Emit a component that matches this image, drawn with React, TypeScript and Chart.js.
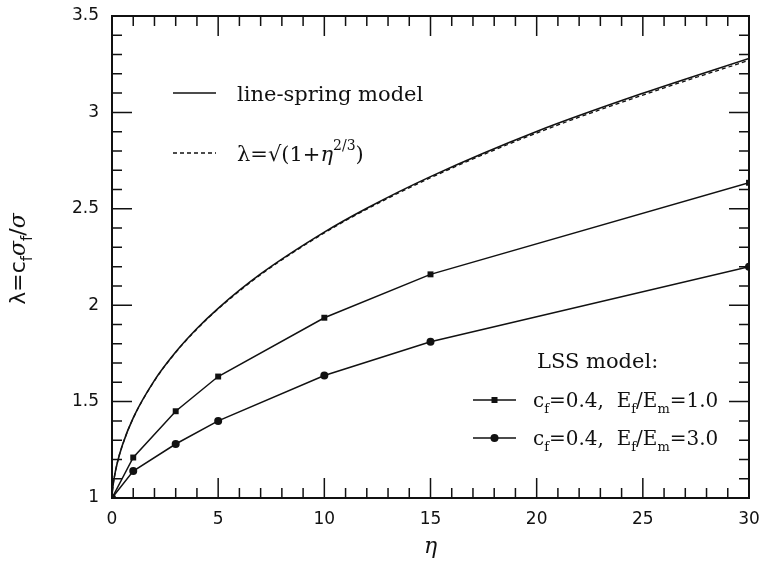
import React, { useEffect, useRef } from "react";
import { Chart, registerables } from "chart.js";

Chart.register(...registerables);

// ---- data ----
const etaCurve = [0, 0.01, 0.02, 0.05, 0.1, 0.25, 0.5, 1, 2, 3, 4, 5, 7, 10, 12, 15, 20, 25, 30];
const lineSpringModel = [1, 1.023, 1.037, 1.066, 1.103, 1.183, 1.278, 1.416, 1.610, 1.757, 1.879, 1.984, 2.162, 2.379, 2.503, 2.667, 2.901, 3.099, 3.280];
const sqrtApprox = [1, 1.023, 1.036, 1.065, 1.102, 1.182, 1.277, 1.414, 1.608, 1.755, 1.876, 1.981, 2.158, 2.375, 2.498, 2.661, 2.893, 3.090, 3.270];

const etaLss = [0, 1, 3, 5, 10, 15, 30];
const lssEf1 = [1, 1.21, 1.45, 1.63, 1.935, 2.16, 2.635];
const lssEf3 = [1, 1.14, 1.28, 1.40, 1.635, 1.81, 2.2];

const xTickLabels = ["0", "5", "10", "15", "20", "25", "30"];
const yTickLabels = ["1", "1.5", "2", "2.5", "3", "3.5"];

const INK = "#111";
const SERIF = "'DejaVu Serif', serif";
const SANS = "'DejaVu Sans', sans-serif";

type Seg = { t: string; sub?: boolean; sup?: boolean; italic?: boolean; family?: string };

function segFont(s: Seg, size: number, family: string) {
  const fs = s.sub || s.sup ? Math.round(size * 0.66) : size;
  return `${s.italic ? "italic " : ""}${fs}px ${s.family || family}`;
}
function measureRich(ctx: CanvasRenderingContext2D, segs: Seg[], size: number, family: string) {
  let w = 0;
  for (const s of segs) {
    ctx.font = segFont(s, size, family);
    w += ctx.measureText(s.t).width;
  }
  return w;
}
function drawRich(ctx: CanvasRenderingContext2D, segs: Seg[], x: number, yMid: number, size: number, family: string) {
  const base = yMid + size * 0.36;
  let cx = x;
  ctx.textBaseline = "alphabetic";
  ctx.textAlign = "left";
  for (const s of segs) {
    ctx.font = segFont(s, size, family);
    const dy = s.sub ? size * 0.3 : s.sup ? -size * 0.5 : 0;
    ctx.fillText(s.t, cx, base + dy);
    cx += ctx.measureText(s.t).width;
  }
  return cx;
}

const decor = {
  id: "decor",
  afterDraw(chart: any) {
    const { ctx, chartArea: a } = chart;
    const xs = chart.scales.x;
    const ys = chart.scales.y;
    ctx.save();
    ctx.strokeStyle = INK;
    ctx.fillStyle = INK;
    ctx.lineWidth = 2;
    ctx.strokeRect(a.left, a.top, a.right - a.left, a.bottom - a.top);

    // inward ticks on all four sides
    ctx.lineWidth = 1.5;
    ctx.beginPath();
    for (let i = 0; i <= 30; i++) {
      const px = xs.getPixelForValue(i);
      const len = i % 5 === 0 ? 20 : 10;
      ctx.moveTo(px, a.bottom);
      ctx.lineTo(px, a.bottom - len);
      ctx.moveTo(px, a.top);
      ctx.lineTo(px, a.top + len);
    }
    for (let k = 0; k <= 25; k++) {
      const py = ys.getPixelForValue(1 + k * 0.1);
      const len = k % 5 === 0 ? 20 : 10;
      ctx.moveTo(a.left, py);
      ctx.lineTo(a.left + len, py);
      ctx.moveTo(a.right, py);
      ctx.lineTo(a.right - len, py);
    }
    ctx.stroke();

    // upper-left legend
    ctx.lineWidth = 1.3;
    ctx.beginPath();
    ctx.moveTo(173, 93);
    ctx.lineTo(216, 93);
    ctx.stroke();
    ctx.setLineDash([4, 3]);
    ctx.beginPath();
    ctx.moveTo(173, 153);
    ctx.lineTo(216, 153);
    ctx.stroke();
    ctx.setLineDash([]);
    drawRich(ctx, [{ t: "line-spring model" }], 237, 93, 21, SERIF);
    drawRich(
      ctx,
      [{ t: "λ=√(1+" }, { t: "η", italic: true }, { t: "2/3", sup: true }, { t: ")" }],
      237,
      153,
      21,
      SERIF
    );

    // lower-right legend
    drawRich(ctx, [{ t: "LSS model:" }], 537, 360, 21, SERIF);
    ctx.lineWidth = 1.5;
    ctx.beginPath();
    ctx.moveTo(473, 400);
    ctx.lineTo(516, 400);
    ctx.moveTo(473, 438);
    ctx.lineTo(516, 438);
    ctx.stroke();
    ctx.fillRect(494.5 - 3, 400 - 3, 6, 6);
    ctx.beginPath();
    ctx.arc(494.5, 438, 4, 0, Math.PI * 2);
    ctx.fill();
    const entry = (last: string): Seg[] => [
      { t: "c" },
      { t: "f", sub: true },
      { t: "=0.4,  E" },
      { t: "f", sub: true },
      { t: "/E" },
      { t: "m", sub: true },
      { t: last },
    ];
    drawRich(ctx, entry("=1.0"), 533, 400, 20, SERIF);
    drawRich(ctx, entry("=3.0"), 533, 438, 20, SERIF);

    // x axis title
    ctx.font = `italic 22px ${SERIF}`;
    ctx.textAlign = "center";
    ctx.textBaseline = "alphabetic";
    ctx.fillText("η", (a.left + a.right) / 2, 553);

    // y axis title (rotated, with subscripts)
    const ySegs: Seg[] = [
      { t: "λ=c", family: SANS },
      { t: "f", sub: true, family: SANS },
      { t: "σ", italic: true },
      { t: "f", sub: true, family: SANS },
      { t: "/", family: SANS },
      { t: "σ", italic: true },
    ];
    ctx.translate(17, (a.top + a.bottom) / 2 + 2);
    ctx.rotate(-Math.PI / 2);
    const w = measureRich(ctx, ySegs, 22, SERIF);
    drawRich(ctx, ySegs, -w / 2, 0, 22, SERIF);
    ctx.restore();
  },
};

export default function App() {
  const ref = useRef<HTMLCanvasElement | null>(null);
  useEffect(() => {
    if (!ref.current) return;
    const pts = (xs: number[], ys: number[]) => xs.map((x, i) => ({ x, y: ys[i] }));
    const chart = new Chart(ref.current, {
      type: "line",
      data: {
        datasets: [
          {
            label: "line-spring model",
            data: pts(etaCurve, lineSpringModel),
            borderColor: INK,
            borderWidth: 1.6,
            pointRadius: 0,
            cubicInterpolationMode: "monotone",
          },
          {
            label: "λ=√(1+η^(2/3))",
            data: pts(etaCurve, sqrtApprox),
            borderColor: INK,
            borderWidth: 1.3,
            borderDash: [4, 3],
            pointRadius: 0,
            cubicInterpolationMode: "monotone",
          },
          {
            label: "cf=0.4, Ef/Em=1.0",
            data: pts(etaLss, lssEf1),
            borderColor: INK,
            backgroundColor: INK,
            borderWidth: 1.5,
            pointStyle: "rect",
            pointRadius: 4.2,
            pointBorderWidth: 0,
            tension: 0,
          },
          {
            label: "cf=0.4, Ef/Em=3.0",
            data: pts(etaLss, lssEf3),
            borderColor: INK,
            backgroundColor: INK,
            borderWidth: 1.5,
            pointStyle: "circle",
            pointRadius: 4,
            pointBorderWidth: 0,
            tension: 0,
          },
        ],
      },
      options: {
        responsive: false,
        animation: false,
        layout: { padding: { top: 16, right: 15, left: 0, bottom: 0 } },
        plugins: { legend: { display: false }, tooltip: { enabled: false } },
        scales: {
          x: {
            type: "linear",
            min: 0,
            max: 30,
            grid: { display: false, drawTicks: false },
            border: { display: false },
            ticks: {
              stepSize: 5,
              padding: 11,
              color: INK,
              font: { family: SANS, size: 17 },
              maxRotation: 0,
              callback: (v: any) => xTickLabels[Math.round(Number(v) / 5)] ?? "",
            },
            afterFit: (s: any) => {
              s.height = 67;
              s.paddingLeft = 0;
              s.paddingRight = 0;
            },
          },
          y: {
            type: "linear",
            min: 1,
            max: 3.5,
            grid: { display: false, drawTicks: false },
            border: { display: false },
            ticks: {
              stepSize: 0.5,
              padding: 13,
              color: INK,
              font: { family: SANS, size: 17 },
              callback: (v: any) => yTickLabels[Math.round((Number(v) - 1) / 0.5)] ?? "",
            },
            afterFit: (s: any) => {
              s.width = 112;
              s.paddingTop = 0;
              s.paddingBottom = 0;
            },
          },
        },
      },
      plugins: [decor],
    });
    return () => chart.destroy();
  }, []);
  return (
    <canvas
      ref={ref}
      width={764}
      height={565}
      style={{ position: "absolute", left: 0, top: 0, width: 764, height: 565, background: "#fff" }}
    />
  );
}
